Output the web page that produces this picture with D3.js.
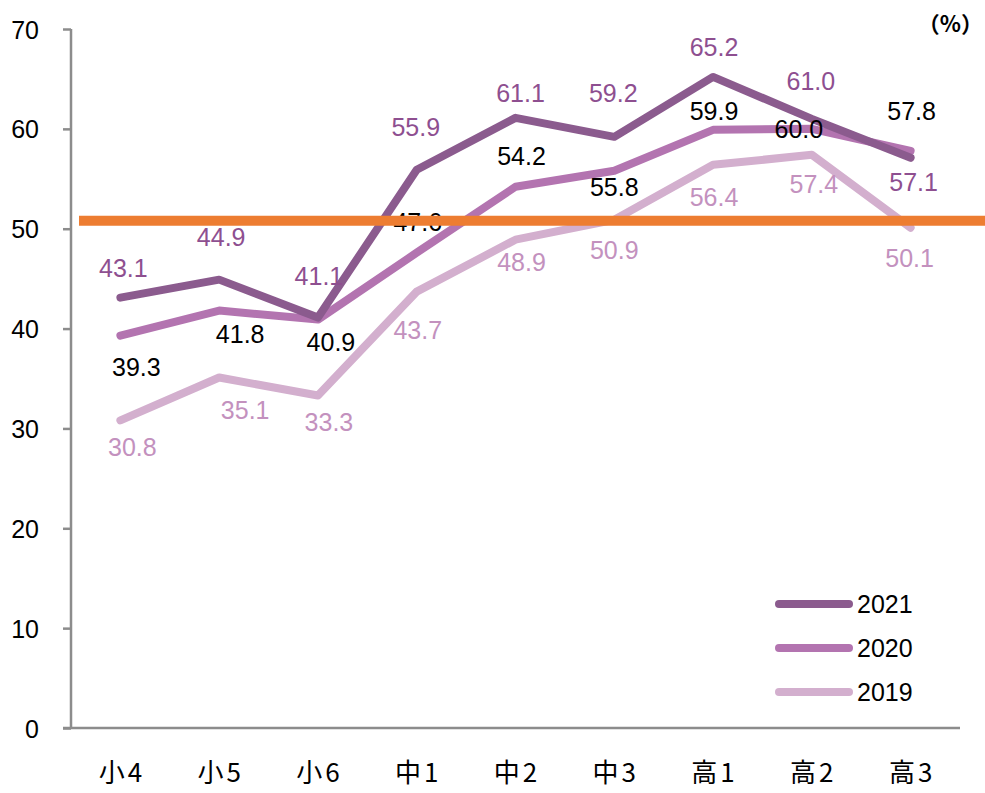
<!DOCTYPE html>
<html><head><meta charset="utf-8">
<script src="https://cdn.jsdelivr.net/npm/d3@7"></script>
<style>
html,body{margin:0;padding:0;background:#fff;}
svg{display:block;}
</style></head>
<body>
<svg id="chart" width="985" height="793"></svg>
<script>
// ---- data ----
const categories = ["小4","小5","小6","中1","中2","中3","高1","高2","高3"];
const seriesNames = ["2021","2020","2019"];
const values2021 = [43.1,44.9,41.1,55.9,61.1,59.2,65.2,61.0,57.1];
const values2020 = [39.3,41.8,40.9,47.6,54.2,55.8,59.9,60.0,57.8];
const values2019 = [30.8,35.1,33.3,43.7,48.9,50.9,56.4,57.4,50.1];
const referenceValue = 50.8;
const yTicks = [0,10,20,30,40,50,60,70];
const unitLabel = "（%）";

// ---- styles / layout (not data) ----
const lineColors = ["#8B5B8E","#B374B0","#D3AFCE"];
const labelColors = ["#8E4F90","#000000","#C391BE"];
// label offsets in px relative to point [dx, dy]
const labelOffsets = [
  [[3,-30],[2,-43],[1,-42],[-1,-43],[5,-25],[-1,-44],[1,-30],[-1,-38],[3,24]],
  [[16,31],[21,23],[13,22],[1,-31],[6,-31],[0,16],[1,-19],[-13,0],[1,-40]],
  [[12,27],[26,32],[11,27],[1,38],[6,22],[0,30],[1,32],[2,29],[-1,30]]
];

const svg = d3.select("#chart");
const x = d3.scaleBand().domain(categories).range([71,960]);
const y = d3.scaleLinear().domain([0,70]).range([728,29]);
const cx = c => x(c) + x.bandwidth()/2;

// y axis
const yAxis = d3.axisLeft(y).tickValues(yTicks).tickSize(8).tickPadding(24).tickFormat(d3.format("d"));
const gy = svg.append("g").attr("transform","translate(71,0)").call(yAxis);
gy.select(".domain").attr("stroke","#8c8c8c").attr("stroke-width",2.5).attr("d","M0,"+y(70)+"V"+y(0));
gy.selectAll(".tick line").attr("stroke","#8c8c8c").attr("stroke-width",2.5);
gy.selectAll(".tick text").attr("fill","#000").attr("font-family","'Liberation Sans',Arial,sans-serif").attr("font-size",25).attr("dy","0.36em");

// x axis
const xAxis = d3.axisBottom(x).tickSize(0).tickPadding(36);
const gx = svg.append("g").attr("transform","translate(0,"+y(0)+")").call(xAxis);
gx.select(".domain").attr("stroke","#8c8c8c").attr("stroke-width",2.5).attr("d","M63,0H960");
gx.selectAll(".tick text").attr("fill","#000").attr("font-family","'Noto Sans CJK JP',sans-serif")
  .attr("font-size",26).attr("letter-spacing","3px").attr("dx","1.5px");

// lines
const allValues = [values2021, values2020, values2019];
const line = d3.line().x((d,i)=>cx(categories[i])).y(d=>y(d));
[2,1,0].forEach(s=>{
  svg.append("path").datum(allValues[s]).attr("d",line)
    .attr("fill","none").attr("stroke",lineColors[s]).attr("stroke-width",8)
    .attr("stroke-linejoin","round").attr("stroke-linecap","round");
});

// labels
[0,1,2].forEach(s=>{
  svg.append("g").selectAll("text").data(allValues[s]).join("text")
    .attr("x",(d,i)=>cx(categories[i])+labelOffsets[s][i][0])
    .attr("y",(d,i)=>y(d)+labelOffsets[s][i][1])
    .attr("dy","0.36em").attr("text-anchor","middle")
    .attr("font-family","'Liberation Sans',Arial,sans-serif").attr("font-size",25)
    .attr("fill",labelColors[s]).text(d=>d.toFixed(1));
});

// reference line
svg.append("line").attr("x1",79).attr("x2",985).attr("y1",y(referenceValue)).attr("y2",y(referenceValue))
  .attr("stroke","#ED7D31").attr("stroke-width",10);

// unit label
svg.append("text").attr("x",983).attr("y",24).attr("dy","0.36em").attr("text-anchor","end")
  .attr("font-family","'Noto Sans CJK JP',sans-serif").attr("font-size",22).attr("font-weight","bold")
  .attr("fill","#000").text(unitLabel);

// legend
const legY = [604,648,692];
seriesNames.forEach((n,s)=>{
  svg.append("line").attr("x1",779).attr("x2",849).attr("y1",legY[s]).attr("y2",legY[s])
    .attr("stroke",lineColors[s]).attr("stroke-width",8).attr("stroke-linecap","round");
  svg.append("text").attr("x",857).attr("y",legY[s]).attr("dy","0.36em")
    .attr("font-family","'Liberation Sans',Arial,sans-serif").attr("font-size",25)
    .attr("fill","#000").text(n);
});
</script>
</body></html>
